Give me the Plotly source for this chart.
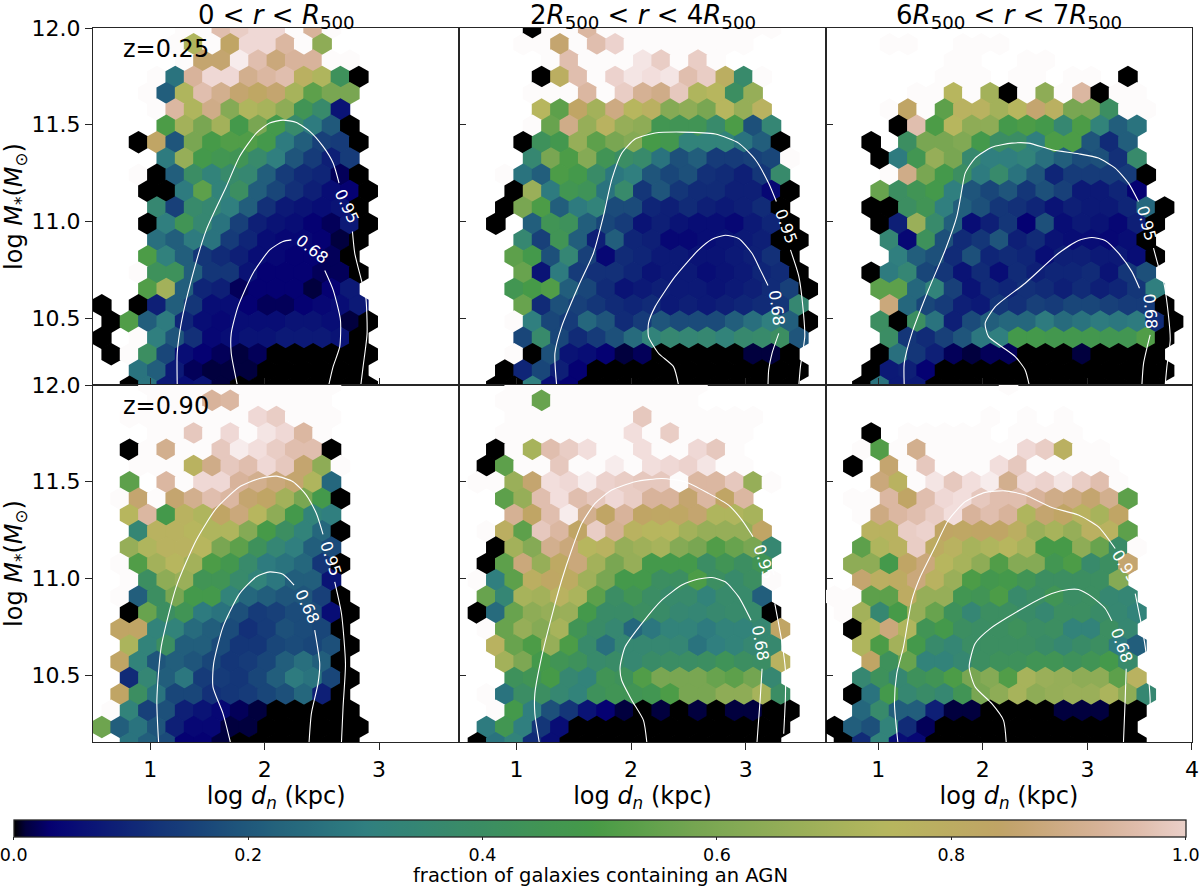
import numpy as np
import plotly.graph_objects as go

# ---- hexagon values, percent of colormap range; each row = (first column, values) ; row 0 is the top row
P1_ROWS = [
 (4,[100,100,90,93,95,95,100,87,100]),
 (4,[100,68,100,78,95,95,88,100,60]),
 (4,[100,80,80,98,90,82,87,87,100,100]),
 (3,[100,25,87,95,95,85,88,90,73,68,40,0]),
 (2,[100,20,68,90,85,80,77,80,66,50,55,55]),
 (3,[100,88,68,84,58,68,66,60,42,35,6]),
 (3,[47,65,55,65,45,55,45,35,27,19,0]),
 (2,[0,78,18,55,46,48,48,45,27,20,14,13,0]),
 (3,[27,62,45,43,42,35,28,18,13,8,13]),
 (2,[100,0,20,37,30,35,33,20,13,10,9,2,0]),
 (2,[0,0,27,50,30,38,20,15,11,8,5,3,0]),
 (3,[33,14,35,33,28,20,11,7,6,5,6,0]),
 (2,[0,28,42,33,25,14,8,6,5,3,2,7,0]),
 (3,[24,20,27,25,13,9,5,4,4,3,1,0]),
 (2,[47,29,20,12,10,8,5,4,3,3,2,0]),
 (2,[100,40,40,20,12,12,6,3,3,3,2,2,0]),
 (2,[48,65,20,9,8,2,3,3,3,1,3,7]),
 (0,[0,None,0,8,20,12,5,5,3,2,2,3,4,5,7]),
 (0,[0,48,20,27,9,5,4,5,5,5,6,6,5,1,0]),
 (0,[0,None,100,28,18,11,4,5,6,6,7,7,7,6,0]),
 (0,[0,100,38,15,5,3,2,1,2,0,0,0,0,0,0]),
 (2,[25,20,7,2,1,1,1,0,0,0,0,0,0]),
 (1,[0,25,7,5,6,1,0,0,0,0,0,0,0,0]),
]
P2_ROWS = [
 (3,[0,100,100,88,100,100,100,100,100,100,100,100,100,100]),
 (3,[100,100,80,100,90,94,100,100,100,100,100,100,100]),
 (4,[100,90,100,100,100,97,93,100,93,100]),
 (4,[0,74,90,100,94,97,96,97,90,93,74,35,100]),
 (3,[100,100,100,88,100,93,86,84,92,68,70,38,62]),
 (4,[70,50,78,65,83,70,73,58,60,55,70,62,72]),
 (3,[100,52,84,62,72,62,60,43,42,42,35,47,17,32]),
 (3,[0,40,44,62,50,55,58,46,44,30,30,30,25,20,0]),
 (3,[33,55,47,58,42,37,35,25,17,20,13,13,14,15,100]),
 (2,[100,25,20,47,45,36,26,28,18,15,17,11,10,8,12,35]),
 (2,[0,63,27,43,41,25,35,12,18,12,10,10,8,8,4,0]),
 (2,[0,55,47,20,27,30,16,16,9,8,10,8,7,8,10,0]),
 (1,[0,None,20,42,40,20,15,13,6,8,6,5,5,4,7,9,0]),
 (3,[33,14,42,20,8,20,9,8,4,4,5,6,7,8,0,0]),
 (2,[50,45,17,32,14,4,10,9,7,7,6,6,7,8,11,0]),
 (3,[52,6,27,13,11,11,9,6,7,7,5,6,7,9,10,0]),
 (2,[43,46,48,20,15,10,6,7,8,7,7,6,7,8,10,14,0]),
 (3,[52,10,17,14,12,10,9,10,7,8,7,8,9,10,12,33]),
 (2,[100,28,15,13,22,18,10,13,18,16,16,16,20,24,28,20,0]),
 (3,[15,35,15,10,13,17,23,30,33,32,33,30,34,35,38,18]),
 (2,[100,0,17,6,5,3,1,2,0,0,0,0,0,1,1,0]),
 (2,[0,9,15,8,3,0,0,0,0,0,0,0,0,0,0,0,0]),
 (1,[0,0,28,5,3,0,0,0,0,0,0,0,0,0,0,0,0]),
]
P3_ROWS = [
 (0,[]),
 (2,[100,100,None,None,100,100,100]),
 (5,[100,100,None,None,100,100]),
 (5,[100,100,100,None,100,100,None,100,100,None,0]),
 (3,[100,100,70,100,65,0,100,60,100,88,0,100,100]),
 (2,[100,78,100,50,72,72,65,70,80,73,55,55,38,100,100]),
 (2,[0,90,47,70,60,60,45,47,45,33,47,30,20,25]),
 (1,[0,None,38,55,55,57,45,37,37,28,47,47,18,10,20]),
 (1,[0,27,43,62,55,34,28,28,30,24,20,16,17,11,35]),
 (2,[100,84,55,45,38,27,35,25,18,9,13,13,13,13,0]),
 (1,[52,38,42,45,28,18,15,18,12,17,14,7,7,9,3]),
 (1,[0,0,38,42,28,20,17,12,11,9,6,8,7,7,9,22,0]),
 (1,[0,8,63,35,20,5,8,12,3,17,5,7,6,4,8,0]),
 (2,[32,4,40,17,10,12,18,8,10,6,5,5,4,5,0]),
 (2,[28,20,17,10,17,9,10,9,5,8,8,7,7,5,0]),
 (1,[0,27,32,15,12,6,10,5,10,8,9,9,10,6,12,17]),
 (1,[50,50,22,30,14,6,10,9,11,10,8,10,8,9,12,28]),
 (2,[82,22,15,13,8,7,12,11,14,13,15,15,14,13,13,0]),
 (1,[38,0,38,25,8,16,20,22,22,27,23,25,27,26,27,10,0]),
 (2,[37,12,10,14,18,26,28,45,45,44,44,44,43,43,48,0]),
 (1,[0,24,12,8,2,1,2,2,0,0,0,1,0,0,0,0]),
 (1,[0,7,8,3,0,0,0,0,0,0,0,0,0,0,0,0,0]),
 (0,[0,25,7,7,0,0,0,0,0,0,0,0,0,0,0,0,0]),
]
P4_ROWS = [
 (2,[100,100,100,100,100,100,100,100,100,100,100]),
 (3,[100,100,100,87,88,100,100,100,100,100]),
 (1,[100,100,100,100,100,100,100,95,93,100,100,100]),
 (3,[100,100,92,100,95,100,97,95,88,100]),
 (1,[0,100,85,100,100,92,98,96,93,90,90,0]),
 (2,[100,100,100,72,84,92,90,95,92,80,60,100]),
 (1,[50,None,88,100,95,95,87,85,82,80,68,22]),
 (1,[100,80,100,80,85,90,88,80,78,65,55,45,0]),
 (1,[70,88,45,72,68,78,82,70,60,45,30,28]),
 (2,[32,72,72,70,68,68,58,46,38,30,22,0]),
 (1,[62,68,72,72,70,55,50,40,32,28,20,16]),
 (1,[100,48,65,70,65,47,44,35,27,25,22,12,0]),
 (1,[100,38,60,63,42,42,35,30,26,20,20,6]),
 (1,[100,20,38,55,45,45,30,22,20,18,18,14,0]),
 (1,[0,52,38,42,27,25,17,13,14,16,16,5,0]),
 (1,[78,78,30,30,23,20,16,11,13,17,16,15,0]),
 (1,[67,30,38,20,20,16,12,12,15,16,15,17,0]),
 (1,[78,30,18,20,18,15,12,13,15,20,24,20,0]),
 (1,[10,32,20,26,13,13,12,15,20,27,25,15,0]),
 (1,[78,38,25,15,15,11,12,13,15,17,22,8,0]),
 (0,[100,30,14,17,8,6,4,2,1,0,0,0,0,0]),
 (0,[53,20,25,18,8,4,4,1,1,0,0,0,0,0,0]),
 (1,[25,20,16,3,3,1,0,0,0,0,0,0,0]),
]
P5_ROWS = [
 (2,[100,100,100,100,100,100,100,100,100,100,100]),
 (2,[100,100,52,100,100,100,100,100,100,100,100]),
 (2,[100,100,100,100,100,100,100,92,100,100,100,100,100,100]),
 (2,[100,100,100,100,100,100,100,96,100,93,100,100,100,100]),
 (1,[0,100,66,90,93,96,100,100,96,100,100,95,92,100]),
 (1,[0,50,100,100,92,100,100,98,100,96,95,94,97,100,100]),
 (0,[100,100,63,80,96,95,98,94,93,92,92,100,88,88,92,62,100]),
 (2,[50,62,90,96,90,92,95,93,87,87,80,88,78,88]),
 (2,[86,78,90,98,85,78,87,78,77,77,80,68,68,66]),
 (1,[100,74,50,92,88,78,93,86,72,70,70,65,62,62,62,78]),
 (1,[0,65,58,85,82,70,72,62,64,66,58,55,48,52,55,33]),
 (1,[0,50,82,62,76,82,65,55,62,45,45,45,37,42,38,42]),
 (0,[100,28,50,74,77,75,64,55,45,45,38,38,47,38,35,38,100]),
 (1,[52,32,66,65,72,67,50,37,42,37,35,35,30,35,35,20]),
 (0,[0,23,52,60,62,63,45,36,36,38,36,33,32,34,35,35,0]),
 (1,[100,52,62,58,66,42,36,33,22,26,30,30,27,30,30,33,78]),
 (1,[72,52,47,62,47,35,24,33,33,33,32,25,28,30,33,34]),
 (2,[65,56,45,42,40,35,36,33,36,37,37,38,41,38,37,72]),
 (2,[40,42,46,33,30,42,40,48,55,55,55,52,50,54,33]),
 (1,[100,25,37,38,33,30,40,42,42,43,47,55,55,60,60,66,37]),
 (1,[100,45,28,17,12,6,3,1,0,1,0,1,0,1,1,0,0]),
 (1,[27,43,28,12,5,0,0,0,0,0,0,0,0,0,0,0,0]),
 (0,[0,25,30,10,5,0,0,0,0,0,0,0,0,0,0,0,0]),
]
P6_ROWS = [
 (8,[100]),
 (0,[]),
 (7,[100,None,100,None,100]),
 (1,[0,None,100,100,100,100,100,None,100,100,100,100]),
 (0,[100,48,100,85,100,100,100,100,100,95,93,73,100,100]),
 (0,[0,None,80,100,92,100,100,100,96,92,100,100,100,100,100]),
 (1,[82,72,100,97,92,96,98,85,95,94,97,93,90,100]),
 (0,[100,100,88,78,90,95,96,92,90,90,87,84,83,80,85,50]),
 (0,[100,83,88,90,93,96,87,90,87,68,80,78,72,66,78]),
 (1,[72,72,93,94,78,77,78,78,74,63,66,62,73,72,50]),
 (0,[50,68,72,93,75,72,66,68,70,66,46,46,60,52,36,100]),
 (0,[60,60,45,78,82,70,66,60,48,58,58,43,47,35,38,80]),
 (0,[80,74,75,82,72,63,47,44,45,42,38,38,38,38,58]),
 (-1,[100,100,50,50,75,62,62,43,42,47,35,37,42,37,38,33,32]),
 (-1,[100,65,33,46,62,52,40,32,38,38,36,33,38,38,36,33,30]),
 (0,[0,68,82,68,42,45,38,37,38,40,37,38,30,30,38,33]),
 (0,[68,47,65,45,35,32,37,38,38,38,36,33,36,38,27,20]),
 (1,[78,40,52,30,30,33,38,40,40,42,42,40,42,45,35]),
 (0,[33,40,33,40,42,47,55,58,48,66,63,62,60,60,50,72]),
 (0,[0,25,45,33,36,33,42,55,60,66,60,62,63,63,67,60,33]),
 (0,[22,35,20,20,8,1,1,0,0,0,0,1,1,1,0,0]),
 (-1,[0,20,17,30,10,2,0,0,0,0,0,0,0,0,0,0,0]),
 (-1,[0,10,30,5,4,0,0,0,0,0,0,0,0,0,0,0,0]),
]

# ---- contour levels; None marks the gap left for a label
P1_C95_X = [1.236,1.236,1.271,1.359,1.490,1.665,1.781,1.927,2.044,2.160,2.277,2.394,2.510,2.598,2.650,None,2.767,2.787,2.845,2.883,2.895,2.860,2.840]
P1_C95_Y = [10.155,10.319,10.474,10.698,10.957,11.181,11.336,11.457,11.509,11.524,11.512,11.466,11.388,11.302,11.198,None,10.948,10.836,10.698,10.612,10.422,10.250,10.155]
P1_C68_X = [1.761,1.708,1.708,1.767,1.898,2.044,2.160,2.233,None,2.525,2.598,2.662,2.656,2.598,2.560]
P1_C68_Y = [10.155,10.319,10.422,10.560,10.733,10.853,10.897,10.905,None,10.747,10.647,10.491,10.353,10.250,10.155]
P2_C95_X = [1.350,1.335,1.394,1.539,1.671,1.758,1.831,1.918,2.035,2.210,2.443,2.735,2.939,3.085,3.201,3.268,None,3.391,3.464,3.507,3.516,3.478,3.464]
P2_C95_Y = [10.155,10.319,10.457,10.664,10.836,11.026,11.216,11.353,11.426,11.457,11.462,11.452,11.405,11.319,11.198,11.103,None,10.853,10.716,10.509,10.405,10.250,10.155]
P2_C68_X = [2.414,2.370,2.239,2.152,2.152,2.210,2.385,2.589,2.706,2.822,2.939,3.055,3.128,3.195,None,3.289,3.230,3.201,3.195]
P2_C68_Y = [10.155,10.250,10.319,10.405,10.474,10.560,10.716,10.853,10.908,10.929,10.912,10.836,10.750,10.669,None,10.422,10.319,10.233,10.155]
P3_C95_X = [1.249,1.249,1.322,1.481,1.641,1.752,1.800,1.832,1.927,2.087,2.278,2.437,2.660,2.915,3.106,3.266,3.393,3.489,None,3.632,3.680,3.728,3.776,3.792,3.760,3.744]
P3_C95_Y = [10.155,10.267,10.422,10.647,10.853,11.026,11.164,11.250,11.328,11.384,11.405,11.405,11.371,11.350,11.328,11.276,11.198,11.103,None,10.862,10.767,10.690,10.509,10.388,10.250,10.155]
P3_C68_X = [2.444,2.405,2.310,2.182,2.055,2.023,2.119,2.405,2.724,2.915,3.043,3.170,3.298,3.425,3.498,None,3.600,3.537,3.521]
P3_C68_Y = [10.155,10.233,10.302,10.353,10.405,10.474,10.560,10.681,10.836,10.902,10.917,10.902,10.836,10.741,10.655,None,10.414,10.267,10.155]
P4_C95_X = [1.073,1.058,1.096,1.227,1.402,1.577,1.781,1.956,2.102,2.248,2.364,2.452,2.510,None,2.612,2.671,2.706,2.685,2.671]
P4_C95_Y = [10.155,10.371,10.647,10.957,11.198,11.362,11.474,11.517,11.529,11.500,11.431,11.336,11.228,None,10.983,10.819,10.560,10.336,10.155]
P4_C68_X = [1.700,1.636,1.548,1.554,1.636,1.781,1.927,2.044,2.160,2.257,None,2.437,2.481,2.466,2.408,2.388]
P4_C68_Y = [10.155,10.302,10.440,10.560,10.750,10.922,11.009,11.034,11.022,10.966,None,10.733,10.560,10.457,10.302,10.155]
P5_C95_X = [1.198,1.160,1.160,1.219,1.306,1.394,1.481,1.569,1.685,1.831,2.035,2.268,2.472,2.676,2.851,2.968,3.064,None,3.254,3.318,3.347,3.347,3.332]
P5_C95_Y = [10.155,10.302,10.405,10.595,10.802,10.991,11.147,11.284,11.388,11.457,11.500,11.517,11.500,11.440,11.379,11.302,11.216,None,10.871,10.664,10.526,10.388,10.198]
P5_C68_X = [2.137,2.108,2.006,1.918,1.904,1.948,2.093,2.268,2.443,2.589,2.706,2.822,2.939,3.047,None,3.143,3.128,3.099]
P5_C68_Y = [10.155,10.267,10.371,10.474,10.543,10.647,10.767,10.888,10.966,10.997,11.005,10.983,10.905,10.784,None,10.534,10.388,10.155]
P6_C95_X = [1.188,1.156,1.178,1.242,1.322,1.402,1.545,1.672,1.832,2.023,2.214,2.405,2.660,2.915,3.106,3.266,None,3.457,3.511,3.553,3.591,3.600,3.584]
P6_C95_Y = [10.155,10.353,10.509,10.647,10.888,11.009,11.164,11.302,11.397,11.445,11.453,11.431,11.367,11.328,11.267,11.155,None,10.922,10.776,10.647,10.448,10.371,10.155]
P6_C68_X = [2.224,2.198,2.087,1.927,1.870,1.927,2.071,2.405,2.660,2.820,2.915,3.043,3.170,3.234,None,3.371,3.361,3.345]
P6_C68_Y = [10.155,10.267,10.353,10.440,10.543,10.664,10.741,10.853,10.922,10.943,10.943,10.905,10.845,10.781,None,10.534,10.371,10.155]

# contour label: x, y, angle for 0.95 then 0.68
LABELS = [
 [(2.720,11.078,65),(2.417,10.853,38)],
 [(3.353,10.974,70),(3.274,10.552,82)],
 [(3.568,10.991,75),(3.600,10.534,86)],
 [(2.577,11.103,72),(2.370,10.853,65)],
 [(3.157,11.086,72),(3.128,10.664,80)],
 [(3.361,11.060,58),(3.330,10.655,70)],
]
TITLES = ["0 &lt; <i>r</i> &lt; <i>R</i><sub>500</sub>",
          "2<i>R</i><sub>500</sub> &lt; <i>r</i> &lt; 4<i>R</i><sub>500</sub>",
          "6<i>R</i><sub>500</sub> &lt; <i>r</i> &lt; 7<i>R</i><sub>500</sub>"]
Z_LABELS = ["z=0.25", "z=0.90"]
X_TICKS = [1, 2, 3]
Y_TICKS = [10.5, 11.0, 11.5, 12.0]
CBAR_TICKS = [0.0, 0.2, 0.4, 0.6, 0.8, 1.0]
CBAR_LABEL = "fraction of galaxies containing an AGN"

# ---- gist_earth
RED = [(0,0),(.2824,.1882),(.4588,.2714),(.5490,.4719),(.6980,.7176),(.7882,.7553),(1,.9922)]
GREEN = [(0,0),(.0275,0),(.1098,.1893),(.1647,.3035),(.2078,.3841),(.2824,.5020),(.5216,.6397),(.6980,.7171),
         (.7882,.6392),(.8157,.6549),(.8667,.6991),(.8980,.7430),(.9412,.8275),(.9647,.8816),(1,.9843)]
BLUE = [(0,0),(.0039,.1684),(.0078,.2212),(.0275,.4329),(.0314,.4549),(.2824,.5004),(.4667,.2748),(.5451,.3205),
        (.7843,.3961),(.8941,.6651),(1,.9843)]
def cmap(t):
    c = [np.interp(t, *zip(*ch)) for ch in (RED, GREEN, BLUE)]
    return "rgb(%d,%d,%d)" % tuple(int(round(255*v)) for v in c)
grid = [0,.0039,.0078,.0275,.0314] + list(np.linspace(.04, 1, 97))
SCALE = [[float(t), cmap(t)] for t in grid]
BAR_END = 0.935
BAR_SCALE = [[float(t), cmap(t*BAR_END)] for t in np.linspace(0, 1, 101)]

W, H = 1200, 886
L, R, T, B = 93.3, 1192.5, 28.3, 741.7   # plot area in pixels; margins hold everything else
PW, PH = R - L, B - T
PX = [(93.3, 459.6), (459.6, 826.3), (826.3, 1192.5)]
PY = [(28.3, 385.0), (385.0, 741.7)]
RANGES_X = [[0.5, 3.7], [0.5, 3.7], [0.5, 4.0]]
RANGE_Y = [10.155, 12.0]
LATTICE = [(0.577, 0.659, 0.1604), (0.577, 0.659, 0.1604), (0.758, 0.844, 0.1753)]
ROW_STEP = 0.0843
ROW_TOP = [12.0, 12.0026]
HEX_SIZE = 22.6
LINE_W = 1.3
DARK = "#262626"
FONT = "DejaVu Sans"
def fx(px): return (px - L) / PW
def fy(py): return 1 - (py - T) / PH

ALL_ROWS = [P1_ROWS, P2_ROWS, P3_ROWS, P4_ROWS, P5_ROWS, P6_ROWS]
C95 = [(P1_C95_X,P1_C95_Y),(P2_C95_X,P2_C95_Y),(P3_C95_X,P3_C95_Y),(P4_C95_X,P4_C95_Y),(P5_C95_X,P5_C95_Y),(P6_C95_X,P6_C95_Y)]
C68 = [(P1_C68_X,P1_C68_Y),(P2_C68_X,P2_C68_Y),(P3_C68_X,P3_C68_Y),(P4_C68_X,P4_C68_Y),(P5_C68_X,P5_C68_Y),(P6_C68_X,P6_C68_Y)]

fig = go.Figure()
annotations = []
layout = {}
for p in range(6):
    row, col = p // 3, p % 3
    n = p + 1
    sx = "" if n == 1 else str(n)
    xa, ya = "x" + sx, "y" + sx
    odd0, even0, step = LATTICE[col]
    xs, ys, vs = [], [], []
    for r, (start, values) in enumerate(ALL_ROWS[p]):
        for k, v in enumerate(values):
            if v is None:
                continue
            xs.append((odd0 if r % 2 else even0) + (start + k) * step)
            ys.append(ROW_TOP[row] - r * ROW_STEP)
            vs.append(v / 100)
    fig.add_trace(go.Scatter(x=xs, y=ys, mode="markers", xaxis=xa, yaxis=ya, showlegend=False, hoverinfo="skip",
                             marker=dict(symbol="hexagon", size=HEX_SIZE, color=vs, coloraxis="coloraxis", line=dict(width=0))))
    for lx, ly in (C95[p], C68[p]):
        fig.add_trace(go.Scatter(x=lx, y=ly, mode="lines", xaxis=xa, yaxis=ya, showlegend=False, hoverinfo="skip",
                                 line=dict(color="white", width=1.1, shape="spline", smoothing=0.6), connectgaps=False))
    for (lx, ly, ang), txt in zip(LABELS[p], ("0.95", "0.68")):
        annotations.append(dict(x=lx, y=ly, xref=xa, yref=ya, text=txt, showarrow=False, textangle=ang,
                                font=dict(family=FONT, size=16, color="white")))
    x_ticks = X_TICKS + [4] if col == 2 else X_TICKS
    xaxis = dict(
        domain=[fx(PX[col][0]), fx(PX[col][1])], range=RANGES_X[col], anchor=ya, tickvals=x_ticks,
        ticks="outside" if row == 1 else "inside", ticklen=7, tickwidth=LINE_W, tickcolor=DARK,
        showticklabels=row == 1, showgrid=False, zeroline=False, showline=True, mirror=True,
        linecolor=DARK, linewidth=LINE_W, tickfont=dict(family=FONT, size=22, color="black"))
    if row == 1:
        xaxis["title"] = dict(text="log <i>d<sub>n</sub></i> (kpc)", standoff=0, font=dict(family=FONT, size=24, color="black"))
    yaxis = dict(
        domain=[fy(PY[row][1]), fy(PY[row][0])], range=RANGE_Y, anchor=xa, tickvals=Y_TICKS,
        ticktext=["%.1f" % t for t in Y_TICKS],
        ticks="outside" if col == 0 else "inside", ticklen=7, tickwidth=LINE_W, tickcolor=DARK,
        showticklabels=col == 0, showgrid=False, zeroline=False, showline=True, mirror=True,
        linecolor=DARK, linewidth=LINE_W, tickfont=dict(family=FONT, size=22, color="black"))
    if col == 0:
        yaxis["title"] = dict(text="log <i>M</i><sub>*</sub>(<i>M</i><sub>⊙</sub>)", standoff=2, font=dict(family=FONT, size=24, color="black"))
    layout["xaxis" + sx] = xaxis
    layout["yaxis" + sx] = yaxis

for t, (x0, x1) in zip(TITLES, PX):
    annotations.append(dict(x=fx((x0+x1)/2), y=fy(17), xref="paper", yref="paper", text=t, showarrow=False,
                            xanchor="center", yanchor="middle", font=dict(family=FONT, size=26, color="black")))
for t, y in zip(Z_LABELS, (49, 405.5)):
    annotations.append(dict(x=fx(121), y=fy(y), xref="paper", yref="paper", text=t, showarrow=False,
                            xanchor="left", yanchor="middle", font=dict(family=FONT, size=24, color="black")))
annotations.append(dict(x=fx(601), y=fy(875), xref="paper", yref="paper", text=CBAR_LABEL, showarrow=False,
                        xanchor="center", yanchor="middle", font=dict(family=FONT, size=19.5, color="black")))

# colour bar
fig.add_trace(go.Scatter(x=[None, None], y=[None, None], mode="markers", showlegend=False, hoverinfo="skip",
                         marker=dict(color=[0, 1], coloraxis="coloraxis2", size=1)))

fig.update_layout(
    width=W, height=H, margin=dict(l=L, r=W-R, t=T, b=H-B, pad=0, autoexpand=False), paper_bgcolor="white", plot_bgcolor="white",
    annotations=annotations,
    coloraxis=dict(cmin=0, cmax=1, colorscale=SCALE, showscale=False),
    coloraxis2=dict(cmin=0, cmax=1, colorscale=BAR_SCALE, showscale=True, colorbar=dict(
        orientation="h", x=fx(14), xanchor="left", y=fy(820), yanchor="top", len=1171.5, lenmode="pixels",
        thickness=16.7, thicknessmode="pixels", xpad=0, ypad=0, outlinewidth=1.3, outlinecolor=DARK,
        tickvals=CBAR_TICKS, ticktext=["%.1f" % t for t in CBAR_TICKS], ticks="outside", ticklen=3, tickwidth=1.2, tickcolor=DARK,
        ticklabeloverflow="allow", tickfont=dict(family=FONT, size=17.5, color="black"))),
    font=dict(family=FONT),
    **layout)
fig.write_html("out.html", config=dict(displayModeBar=False), post_script="document.body.style.margin='0';")
